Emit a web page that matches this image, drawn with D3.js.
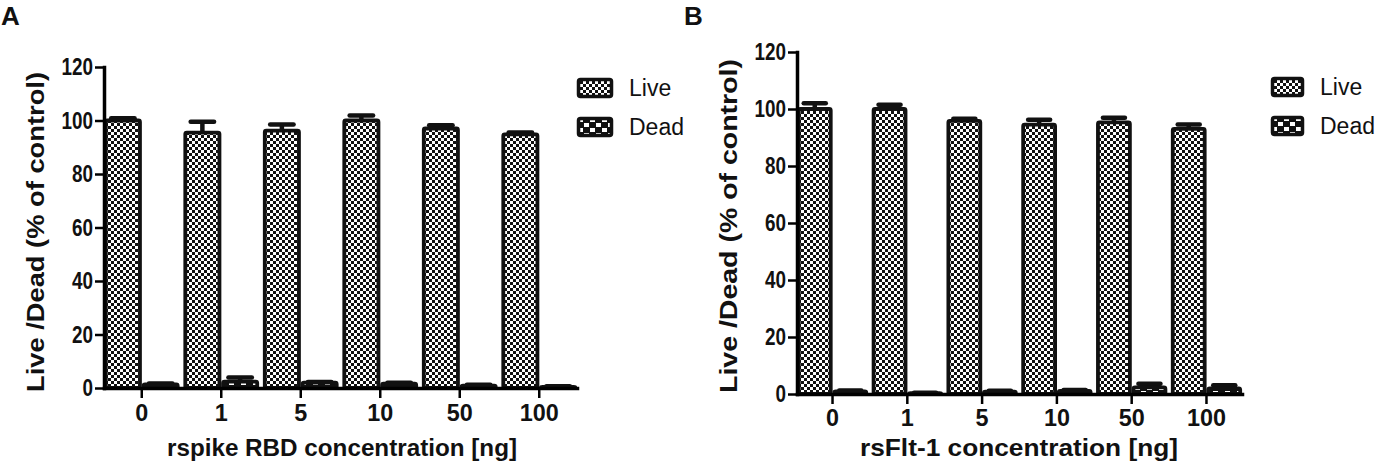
<!DOCTYPE html>
<html>
<head>
<meta charset="utf-8">
<script src="https://cdn.jsdelivr.net/npm/d3@7"></script>
<style>
  body { margin: 0; background: #fff; }
  svg { display: block; font-family: "Liberation Sans", Arial, sans-serif; }
</style>
</head>
<body>
<div id="chart"></div>
<script>
// categories + values
const doses = ["0", "1", "5", "10", "50", "100"];
const seriesNames = ["Live", "Dead"];
const yTicks = [0, 20, 40, 60, 80, 100, 120];

const liveA    = [100, 95.5, 96.2, 100, 97, 94.8];
const liveErrA = [0.8, 4.0, 2.3, 1.9, 1.2, 0.7];
const deadA    = [1.3, 2.4, 2.0, 1.6, 0.9, 0.4];
const deadErrA = [0.4, 1.5, 0.2, 0.4, 0.3, 0.3];

const liveB    = [100, 100, 95.8, 94.5, 95.3, 93.0];
const liveErrB = [2.0, 1.5, 0.8, 1.7, 1.6, 1.6];
const deadB    = [0.9, 0.3, 0.8, 1.1, 2.3, 2.0];
const deadErrB = [0.3, 0.1, 0.3, 0.3, 1.3, 1.1];

const W = 1381, H = 472;

const svg = d3.select('#chart')
  .append('svg')
    .attr('width', W)
    .attr('height', H);

// fill patterns: fine checker for Live, coarse checker for Dead
const defs = svg.append('defs');
const pLive = defs.append('pattern')
    .attr('id', 'pLive')
    .attr('patternUnits', 'userSpaceOnUse')
    .attr('width', 6).attr('height', 6);
pLive.append('rect').attr('width', 6).attr('height', 6).attr('fill', '#fff');
pLive.append('rect').attr('width', 3).attr('height', 3).attr('fill', '#111');
pLive.append('rect').attr('x', 3).attr('y', 3).attr('width', 3).attr('height', 3).attr('fill', '#111');

const pDead = defs.append('pattern')
    .attr('id', 'pDead')
    .attr('patternUnits', 'userSpaceOnUse')
    .attr('width', 12).attr('height', 10);
pDead.append('rect').attr('width', 12).attr('height', 10).attr('fill', '#111');
pDead.append('rect').attr('x', 1).attr('y', 1).attr('width', 5).attr('height', 4).attr('fill', '#fff');
pDead.append('rect').attr('x', 7).attr('y', 6).attr('width', 5).attr('height', 4).attr('fill', '#fff');

const fills = { Live: 'url(#pLive)', Dead: 'url(#pDead)' };

function drawPanel(p) {
  const g = svg.append('g');

  const x = d3.scaleBand()
    .domain(doses)
    .range([p.x0, p.x1])
    .paddingInner(0.05)
    .paddingOuter(0);

  const xs = d3.scaleBand()
    .domain(seriesNames)
    .range([0, x.bandwidth()]);

  const y = d3.scaleLinear()
    .domain([0, 120])
    .range([p.yBot, p.yTop]);

  const rows = [];
  doses.forEach((d, i) => {
    rows.push({ dose: d, s: 'Live', v: p.live[i], e: p.liveErr[i] });
    rows.push({ dose: d, s: 'Dead', v: p.dead[i], e: p.deadErr[i] });
  });

  // error bars (upper only)
  const capW = xs.bandwidth() * 0.62;
  const eb = g.append('g')
      .attr('stroke', '#111')
      .attr('stroke-width', 4.5);
  eb.selectAll('line.v')
    .data(rows)
    .join('line')
      .attr('class', 'v')
      .attr('x1', d => x(d.dose) + xs(d.s) + xs.bandwidth() / 2)
      .attr('x2', d => x(d.dose) + xs(d.s) + xs.bandwidth() / 2)
      .attr('y1', d => y(d.v))
      .attr('y2', d => y(d.v + d.e));
  eb.selectAll('line.c')
    .data(rows)
    .join('line')
      .attr('class', 'c')
      .attr('x1', d => x(d.dose) + xs(d.s) + xs.bandwidth() / 2 - capW / 2)
      .attr('x2', d => x(d.dose) + xs(d.s) + xs.bandwidth() / 2 + capW / 2)
      .attr('y1', d => y(d.v + d.e))
      .attr('y2', d => y(d.v + d.e))
      .attr('stroke-linecap', 'round');

  // bars
  g.append('g')
    .selectAll('rect')
    .data(rows)
    .join('rect')
      .attr('x', d => x(d.dose) + xs(d.s) + 1.8)
      .attr('y', d => y(d.v))
      .attr('width', xs.bandwidth() - 3.6)
      .attr('height', d => y(0) - y(d.v))
      .attr('rx', 1.5)
      .attr('fill', d => fills[d.s])
      .attr('stroke', '#111')
      .attr('stroke-width', 3.8);

  // y axis
  g.append('g')
    .attr('transform', `translate(${p.x0},0)`)
    .call(d3.axisLeft(y).tickValues(yTicks).tickSize(9).tickSizeOuter(0).tickPadding(2))
    .call(a => a.select('.domain').attr('stroke-width', 3.5).attr('stroke-linecap', 'square'))
    .call(a => a.selectAll('.tick line').attr('stroke-width', 2.5))
    .call(a => a.selectAll('.tick text')
      .attr('font-size', 24)
      .attr('font-weight', 'bold')
      .attr('fill', '#111')
      .attr('textLength', d => String(d).length * 10.5)
      .attr('lengthAdjust', 'spacingAndGlyphs'));

  // x axis
  g.append('g')
    .attr('transform', `translate(0,${p.yBot})`)
    .call(d3.axisBottom(x).tickSize(10).tickSizeOuter(0))
    .call(a => a.select('.domain').attr('stroke-width', 3.5).attr('stroke-linecap', 'square'))
    .call(a => a.selectAll('.tick line').attr('stroke-width', 2.5))
    .call(a => a.selectAll('.tick text')
      .attr('y', p.xLabelY)
      .attr('dy', 0)
      .attr('font-size', 23)
      .attr('font-weight', 'bold')
      .attr('fill', '#111')
      .attr('textLength', d => d.length * 13)
      .attr('lengthAdjust', 'spacingAndGlyphs'));

  // axis titles
  g.append('text')
    .attr('transform', `translate(${p.yTitleX},${p.yTitleY}) rotate(-90)`)
    .attr('text-anchor', 'middle')
    .attr('font-size', 24)
    .attr('font-weight', 'bold')
    .attr('fill', '#111')
    .attr('textLength', p.yTitleLen)
    .attr('lengthAdjust', 'spacingAndGlyphs')
    .text('Live /Dead (% of control)');

  g.append('text')
    .attr('x', p.xTitleX)
    .attr('y', 456)
    .attr('text-anchor', 'middle')
    .attr('font-size', 24)
    .attr('font-weight', 'bold')
    .attr('fill', '#111')
    .attr('textLength', p.xTitleLen)
    .attr('lengthAdjust', 'spacingAndGlyphs')
    .text(p.xTitle);

  // panel letter
  g.append('text')
    .attr('x', p.letterX)
    .attr('y', 25)
    .attr('font-size', 26)
    .attr('font-weight', 'bold')
    .attr('fill', '#111')
    .text(p.letter);

  // legend
  const lg = g.append('g')
    .attr('transform', `translate(${p.legX},${p.legY})`);
  const item = lg.selectAll('g')
    .data(seriesNames)
    .join('g')
      .attr('transform', (d, i) => `translate(0,${i * 39})`);
  item.append('rect')
    .attr('x', 1.5).attr('y', 1.5)
    .attr('width', p.swW - 3).attr('height', 17)
    .attr('rx', 2)
    .attr('fill', d => fills[d])
    .attr('stroke', '#111')
    .attr('stroke-width', 3.5);
  item.append('text')
    .attr('x', p.swW + 16)
    .attr('y', 18)
    .attr('font-size', 23)
    .attr('fill', '#111')
    .text(d => d);
}

drawPanel({
  letter: 'A', letterX: 1,
  x0: 104, x1: 577, yTop: 67, yBot: 388,
  live: liveA, liveErr: liveErrA, dead: deadA, deadErr: deadErrA,
  xLabelY: 33,
  yTitleX: 44, yTitleY: 232, yTitleLen: 320,
  xTitle: 'rspike RBD concentration [ng]', xTitleX: 342, xTitleLen: 350,
  legX: 577, legY: 78, swW: 36
});

drawPanel({
  letter: 'B', letterX: 684,
  x0: 797, x1: 1242, yTop: 52, yBot: 394,
  live: liveB, liveErr: liveErrB, dead: deadB, deadErr: deadErrB,
  xLabelY: 32,
  yTitleX: 737, yTitleY: 226, yTitleLen: 334,
  xTitle: 'rsFlt-1 concentration [ng]', xTitleX: 1019, xTitleLen: 318,
  legX: 1271, legY: 77, swW: 33
});
</script>
</body>
</html>
